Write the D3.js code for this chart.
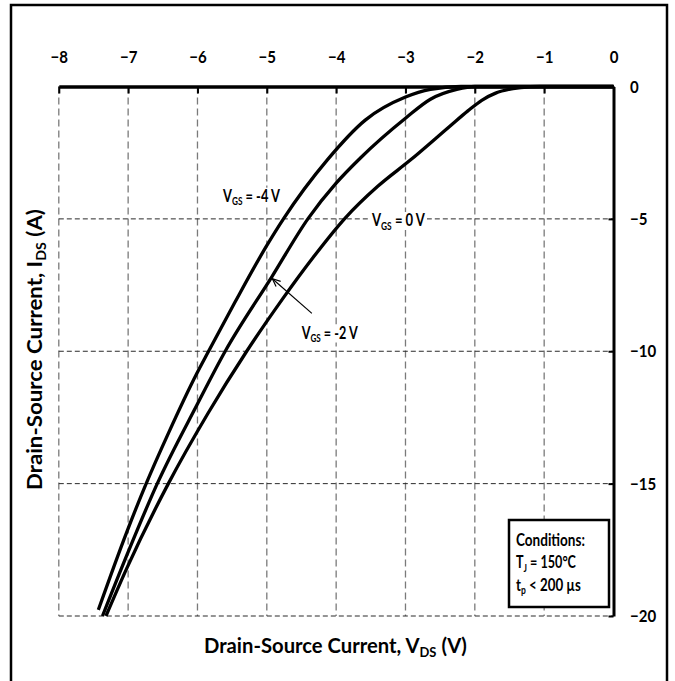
<!DOCTYPE html>
<html>
<head>
<meta charset="utf-8">
<script src="https://cdn.jsdelivr.net/npm/d3@7"></script>
<style>
  html, body { margin: 0; padding: 0; background: #fff; }
  svg { display: block; }
  text { font-family: Lato, "Open Sans", sans-serif; font-weight: 700; fill: #000; }
</style>
</head>
<body>
<svg id="chart" width="675" height="681"></svg>
<script>
// Axis ticks
const vdsTicks = [-8, -7, -6, -5, -4, -3, -2, -1, 0];
const idsTicks = [0, -5, -10, -15, -20];

// Third-quadrant output curves: [V_DS (V), I_DS (A)]
const curveVgsMinus4 = [
  [-7.43, -19.77], [-7.02, -16.83], [-6.74, -15.0], [-6.42, -13.1], [-6.01, -10.84],
  [-5.84, -10.0], [-5.46, -8.15], [-5.01, -6.05], [-4.76, -5.0], [-4.13, -2.78],
  [-3.58, -1.27], [-3.0, -0.40], [-2.64, -0.11], [-2.2, 0], [0, 0]
];
const curveVgsMinus2 = [
  [-7.37, -20.0], [-7.02, -17.71], [-6.58, -15.0], [-6.01, -12.04], [-5.60, -10.0],
  [-4.93, -7.2], [-4.40, -4.97], [-4.0, -3.65], [-3.65, -2.7], [-3.0, -1.2],
  [-2.64, -0.48], [-2.26, -0.11], [-2.0, 0], [0, 0]
];
const curveVgs0 = [
  [-7.32, -20.0], [-7.02, -18.2], [-6.42, -15.0], [-5.85, -12.35], [-5.29, -10.0],
  [-4.78, -8.05], [-4.33, -6.45], [-3.87, -4.97], [-3.4, -3.77], [-2.93, -2.78],
  [-2.36, -1.5], [-2.1, -0.92], [-1.9, -0.52], [-1.7, -0.25], [-1.45, -0.08],
  [-1.2, -0.01], [-1.06, 0], [0, 0]
];

// Annotation texts
const conditionsLines = [
  [{ t: "Conditions:" }],
  [{ t: "T" }, { t: "J", sub: true }, { t: " = 150°C" }],
  [{ t: "t" }, { t: "p", sub: true }, { t: " < 200 µs" }]
];

const svg = d3.select("#chart");
const x = d3.scaleLinear().domain([-8, 0]).range([58.8, 613.5]);
const y = d3.scaleLinear().domain([0, -20]).range([86.5, 616]);
const condense = 0.86;

// Outer frame
svg.append("rect")
  .attr("x", 11).attr("y", 5).attr("width", 656).attr("height", 700)
  .attr("fill", "none").attr("stroke", "#000").attr("stroke-width", 2.5);

// Grid
const grid = svg.append("g");
grid.selectAll("line.v").data(vdsTicks.filter(d => d !== 0)).join("line")
  .attr("class", "v")
  .attr("x1", d => x(d)).attr("x2", d => x(d))
  .attr("y1", y(0)).attr("y2", y(-20))
  .attr("stroke", "#7a7a7a").attr("stroke-width", 1.3).attr("stroke-dasharray", "7,4");
grid.selectAll("line.h").data(idsTicks.filter(d => d !== 0)).join("line")
  .attr("class", "h")
  .attr("x1", x(-8)).attr("x2", x(0))
  .attr("y1", d => y(d)).attr("y2", d => y(d))
  .attr("stroke", "#2a2a2a").attr("stroke-width", 1).attr("stroke-dasharray", "5,3");

// Curves
const line = d3.line().x(d => x(d[0])).y(d => y(d[1])).curve(d3.curveMonotoneX);
svg.append("g").selectAll("path")
  .data([curveVgsMinus4, curveVgsMinus2, curveVgs0]).join("path")
  .attr("d", line)
  .attr("fill", "none").attr("stroke", "#000").attr("stroke-width", 3.3);

// Top axis (V_DS)
const topAxis = svg.append("g").attr("transform", `translate(0,${y(0)})`)
  .call(d3.axisTop(x).tickValues(vdsTicks).tickSizeInner(-7).tickSizeOuter(0).tickPadding(23.5));
topAxis.select(".domain").attr("stroke", "#000").attr("stroke-width", 3.5);
topAxis.selectAll(".tick line").attr("stroke", "#000").attr("stroke-width", 2);
topAxis.selectAll(".tick text")
  .attr("font-family", null).attr("font-size", 17.5)
  .attr("transform", `scale(${condense},1)`);

// Right axis (I_DS)
const rightAxis = svg.append("g").attr("transform", `translate(${x(0)},0)`)
  .call(d3.axisRight(y).tickValues(idsTicks).tickSizeInner(-5).tickSizeOuter(0).tickPadding(0));
rightAxis.select(".domain").attr("stroke", "#000").attr("stroke-width", 3);
rightAxis.selectAll(".tick line").attr("stroke", "#000").attr("stroke-width", 2);
rightAxis.selectAll(".tick text")
  .attr("font-family", null).attr("font-size", 17.5).attr("x", 0)
  .attr("transform", `translate(16.5,0) scale(${condense},1)`);

// Text helper: rich text with subscripts, squeezed to a given width
function richText(parent, parts, size, left, baseline, width, anchor) {
  const t = parent.append("text").attr("font-size", size).attr("text-anchor", anchor || "start");
  let shifted = false;
  parts.forEach(p => {
    const s = t.append("tspan").text(p.t);
    if (p.sub) { s.attr("font-size", size * 0.64).attr("dy", size * 0.22); shifted = true; }
    else if (shifted) { s.attr("dy", -size * 0.22); shifted = false; }
  });
  const w = t.node().getComputedTextLength();
  t.attr("transform", `translate(${left},${baseline}) scale(${width / w},1)`);
  return t;
}

// Curve labels with white backing
const labels = svg.append("g");
function curveLabel(parts, left, baseline, width) {
  labels.append("rect")
    .attr("x", left - 2).attr("y", baseline - 14).attr("width", width + 4).attr("height", 18)
    .attr("fill", "#fff");
  richText(labels, parts, 17, left, baseline, width);
}
curveLabel([{ t: "V" }, { t: "GS", sub: true }, { t: " = -4 V" }], 223, 201.7, 57);
curveLabel([{ t: "V" }, { t: "GS", sub: true }, { t: " = 0 V" }], 372, 226, 53);
curveLabel([{ t: "V" }, { t: "GS", sub: true }, { t: " = -2 V" }], 301.7, 338.5, 56);

// Arrow to the V_GS = -2 V curve
svg.append("defs").append("marker")
  .attr("id", "head").attr("markerUnits", "userSpaceOnUse")
  .attr("viewBox", "-10 -6 12 12").attr("refX", 0).attr("refY", 0)
  .attr("markerWidth", 12).attr("markerHeight", 12).attr("orient", "auto")
  .append("path").attr("d", "M-8,-3.5 L0,0 L-8,3.5")
  .attr("fill", "none").attr("stroke", "#000").attr("stroke-width", 1.2);
svg.append("line")
  .attr("x1", x(-4.35)).attr("y1", y(-8.57))
  .attr("x2", x(-4.92)).attr("y2", y(-7.26))
  .attr("stroke", "#000").attr("stroke-width", 1.2).attr("marker-end", "url(#head)");

// Conditions box
const cond = svg.append("g");
cond.append("rect")
  .attr("x", 509).attr("y", 520).attr("width", 100).attr("height", 87)
  .attr("fill", "#fff").attr("stroke", "#000").attr("stroke-width", 2.5);
const condWidths = [69, 60, 65];
const condBaselines = [546, 568, 590.5];
conditionsLines.forEach((parts, i) => richText(cond, parts, 17, 516, condBaselines[i], condWidths[i]));

// Axis titles
richText(svg, [{ t: "Drain-Source Current, V" }, { t: "DS", sub: true }, { t: " (V)" }], 20, 204, 653, 263);
const yTitle = svg.append("g").attr("transform", "translate(41.7,349.5) rotate(-90)");
richText(yTitle, [{ t: "Drain-Source Current, I" }, { t: "DS", sub: true }, { t: " (A)" }], 20, 0, 0, 281, "middle");
</script>
</body>
</html>
